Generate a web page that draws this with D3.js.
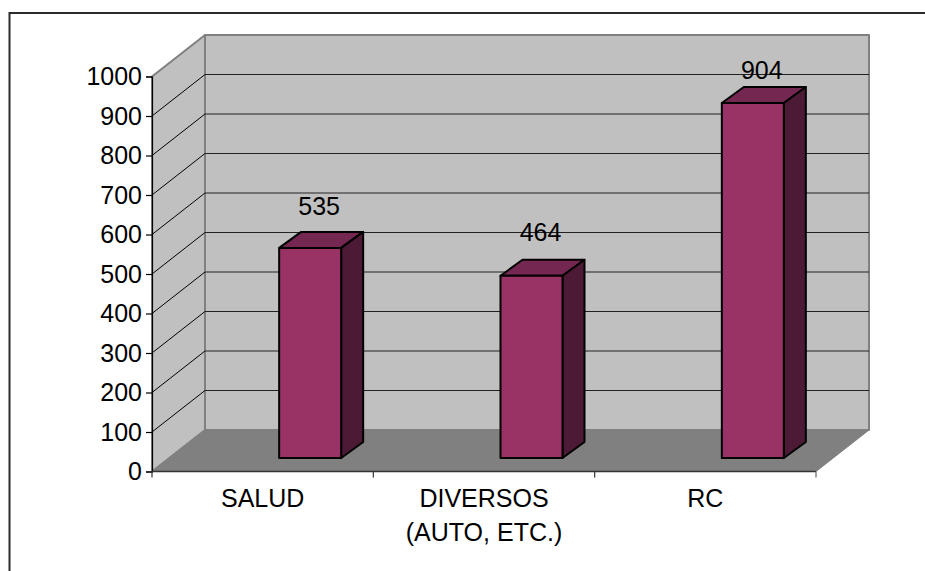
<!DOCTYPE html>
<html>
<head>
<meta charset="utf-8">
<script src="https://cdnjs.cloudflare.com/ajax/libs/d3/7.8.5/d3.min.js"></script>
<style>
  html, body { margin: 0; padding: 0; background: #fff; overflow: hidden; }
  text { font-family: "Liberation Sans", Arial, sans-serif; font-size: 25px; fill: #000; }
</style>
</head>
<body>
<div id="viz"></div>
<script>
var categories = ["SALUD", "DIVERSOS|(AUTO, ETC.)", "RC"];
var values = [535, 464, 904];
var yTicks = [0, 100, 200, 300, 400, 500, 600, 700, 800, 900, 1000];

var width = 925, height = 571;

// front plane of the 3d box, and how far the back wall is pushed
var x0 = 152, x1 = 816, yBottom = 471.5, yTop = 76.5;
var depthX = 53, depthY = -41.5;
// bar sits inside the box, with its own smaller depth
var barInsetX = 16.5, barBase = 458, barDepthX = 22, barDepthY = -16, barWidth = 62;
// labels are not a constant height above the bars in the original
var labelLift = [33, 35, 24];

var svg = d3.select("#viz").append("svg")
  .attr("width", width)
  .attr("height", height)
  .style("display", "block");

var x = d3.scaleBand().domain(categories).range([x0, x1]);
var y = d3.scaleLinear().domain([0, 1000]).range([yBottom, yTop]);
var barY = d3.scaleLinear().domain([0, 1000]).range([barBase, barBase - 392.7]);

function poly(points, fill, stroke, sw) {
  return svg.append("polygon")
    .attr("points", points.map(function (p) { return p.join(","); }).join(" "))
    .attr("fill", fill)
    .attr("stroke", stroke)
    .attr("stroke-width", sw)
    .attr("stroke-linejoin", "round");
}

// chart frame, only top and left are inside the picture
svg.append("path")
  .attr("d", "M9.5," + height + "V13H" + width)
  .attr("fill", "none").attr("stroke", "#2b2b2b").attr("stroke-width", 2);

// walls and floor
poly([[x0 + depthX, yTop + depthY], [x1 + depthX, yTop + depthY], [x1 + depthX, yBottom + depthY], [x0 + depthX, yBottom + depthY]], "#c0c0c0", "#808080", 2);
poly([[x0, yTop], [x0 + depthX, yTop + depthY], [x0 + depthX, yBottom + depthY], [x0, yBottom]], "#c0c0c0", "#808080", 2);
poly([[x0, yBottom], [x0 + depthX, yBottom + depthY], [x1 + depthX, yBottom + depthY], [x1, yBottom]], "#808080", "#808080", 1);

// gridlines
yTicks.slice(1, -1).forEach(function (t) {
  svg.append("path")
    .attr("d", "M" + x0 + "," + y(t) + "L" + (x0 + depthX) + "," + (y(t) + depthY))
    .attr("fill", "none").attr("stroke", "#000").attr("stroke-width", 1);
  svg.append("path")
    .attr("d", "M" + (x0 + depthX) + "," + (y(t) + depthY) + "H" + (x1 + depthX))
    .attr("fill", "none").attr("stroke", "#222").attr("stroke-width", 1.2);
});

// bars
values.forEach(function (v, i) {
  var left = x(categories[i]) + x.bandwidth() / 2 + barInsetX;
  var right = left + barWidth;
  var top = barY(v);
  poly([[left, top], [left + barDepthX, top + barDepthY], [right + barDepthX, top + barDepthY], [right, top]], "#732751", "#000", 2);
  poly([[right, top], [right + barDepthX, top + barDepthY], [right + barDepthX, barBase + barDepthY], [right, barBase]], "#4d1a36", "#000", 2);
  poly([[left, top], [right, top], [right, barBase], [left, barBase]], "#993366", "#000", 2);
  svg.append("text")
    .attr("x", left + barWidth / 2 + 9)
    .attr("y", top - labelLift[i])
    .attr("text-anchor", "middle")
    .text(v);
});

// y axis
var yAxis = d3.axisLeft(y).tickValues(yTicks).tickFormat(d3.format("d")).tickSize(6).tickPadding(4);
var gy = svg.append("g").attr("transform", "translate(" + x0 + ",0)").call(yAxis);
gy.select(".domain").attr("stroke", "#000").attr("stroke-width", 1.2);
gy.selectAll("line").attr("stroke", "#000").attr("stroke-width", 1.2);
gy.selectAll("text").style("font-size", "25px").style("font-family", '"Liberation Sans", Arial, sans-serif').attr("fill", "#000");

// x axis, ticks fall on band edges so they are placed off the band scale
var gx = svg.append("g");
gx.append("line").attr("x1", x0).attr("x2", x1).attr("y1", yBottom).attr("y2", yBottom).attr("stroke", "#333").attr("stroke-width", 1.5);
categories.forEach(function (c, i) {
  gx.append("line").attr("x1", x(c)).attr("x2", x(c)).attr("y1", yBottom).attr("y2", yBottom + 6).attr("stroke", "#333").attr("stroke-width", 1.2);
  if (i === categories.length - 1) {
    gx.append("line").attr("x1", x1).attr("x2", x1).attr("y1", yBottom).attr("y2", yBottom + 6).attr("stroke", "#666").attr("stroke-width", 1.2);
  }
  var lines = c.split("|");
  lines.forEach(function (t, j) {
    gx.append("text")
      .attr("x", x(c) + x.bandwidth() / 2)
      .attr("y", 507 + j * 34)
      .attr("text-anchor", "middle")
      .text(t);
  });
});
</script>
</body>
</html>
